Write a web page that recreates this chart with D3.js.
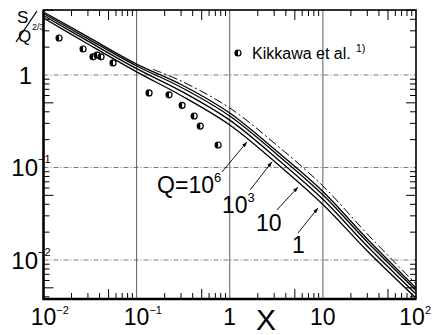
<!DOCTYPE html>
<meta charset="utf-8">
<style>
    html, body { margin: 0; background: #fff; }
    svg { display: block; font-family: "Liberation Sans", Arial, sans-serif; }
    .frame { fill: none; stroke: #000; }
    .grid-v { stroke: #333; stroke-width: 0.8px; }
    .grid-h { stroke: #555; stroke-width: 0.8px; stroke-dasharray: 5,2,1,2; }
    .curve { fill: none; stroke: #000; stroke-width: 1.3px; }
    .dashdot { fill: none; stroke: #000; stroke-width: 1px; stroke-dasharray: 9,3,2,3; }
    .tick { stroke: #000; stroke-width: 1px; }
    .lbl { fill: #000; }
</style>
<body>
<script src="https://cdn.jsdelivr.net/npm/d3@7"></script>
<script>
// sample abscissae for the model curves
var xs = [0.01, 0.03, 0.1, 0.3, 1, 3, 10, 30, 100];
// S/Q^(2/3) for each Q
var sQ1   = [4.80, 2.58, 1.31, 0.789, 0.388, 0.158, 0.0550, 0.01687, 0.00498];
var sQ10  = [4.62, 2.46, 1.25, 0.737, 0.360, 0.147, 0.0507, 0.01566, 0.00468];
var sQ1e3 = [4.39, 2.32, 1.17, 0.670, 0.325, 0.132, 0.0453, 0.01409, 0.00429];
var sQ1e6 = [4.13, 2.16, 1.08, 0.600, 0.288, 0.117, 0.0398, 0.01251, 0.00388];
// dash-dot curve
var dashX = [0.15, 0.3, 1, 3, 10, 30, 100];
var dashY = [1.15, 0.861, 0.440, 0.184, 0.0631, 0.0191, 0.0055];
// Kikkawa et al. points
var kikX = [0.0147, 0.0266, 0.034, 0.0376, 0.0415, 0.0558, 0.136, 0.223, 0.308, 0.415, 0.482, 0.75];
var kikY = [2.51, 1.91, 1.57, 1.64, 1.57, 1.35, 0.64, 0.61, 0.47, 0.36, 0.28, 0.175];
// tick labels
var xTickVals = [0.01, 0.1, 1, 10, 100];
var xTickBase = ["10", "10", "1", "10", "10"];
var xTickSup  = ["\u22122", "\u22121", "", "", "2"];
var yTickVals = [1, 0.1, 0.01];
var yTickBase = ["1", "10", "10"];
var yTickSup  = ["", "\u22121", "\u22122"];
// curve labels: text, exponent, label position, arrow start and tip (data coords)
var qText = ["Q=10", "10", "10", "1"];
var qSup  = ["6", "3", "", ""];
var qLabelX = [0.166, 0.826, 1.91, 4.67];
var qLabelY = [0.0530, 0.0322, 0.0206, 0.0119];
var qFromX = [0.826, 1.65, 3.21, 5.41];
var qFromY = [0.0894, 0.0571, 0.0347, 0.0196];
var qTipX  = [1.53, 2.84, 5.41, 8.87];
var qTipY  = [0.189, 0.115, 0.0615, 0.0365];

var width = 432, height = 335;

var x = d3.scaleLog().domain([0.01, 100]).range([43.5, 416]);
var y = d3.scaleLog().domain([0.003787, 5.04]).range([299, 10]);

var svg = d3.select("body").append("svg")
    .attr("width", width)
    .attr("height", height);

svg.append("defs").append("marker")
    .attr("id", "arr")
    .attr("viewBox", "0 0 10 10")
    .attr("refX", 10).attr("refY", 5)
    .attr("markerWidth", 6).attr("markerHeight", 6)
    .attr("orient", "auto")
    .append("path").attr("d", "M0,1.5L10,5L0,8.5z").attr("fill", "#000");

// grid
svg.selectAll(".grid-v").data([0.1, 1, 10]).enter().append("line")
    .attr("class", "grid-v")
    .attr("x1", d => x(d)).attr("x2", d => x(d))
    .attr("y1", y.range()[0]).attr("y2", y.range()[1]);
svg.selectAll(".grid-h").data(yTickVals).enter().append("line")
    .attr("class", "grid-h")
    .attr("x1", x.range()[0]).attr("x2", x.range()[1])
    .attr("y1", d => y(d)).attr("y2", d => y(d));

// minor ticks on all sides, pointing inward
var xMinor = [], yMinor = [];
[0.01, 0.1, 1, 10].forEach(function (p) {
    for (var k = 2; k < 10; k++) xMinor.push(k * p);
});
[0.001, 0.01, 0.1, 1].forEach(function (p) {
    for (var k = 2; k < 10; k++) {
        var v = k * p;
        if (v > y.domain()[0] && v < y.domain()[1]) yMinor.push(v);
    }
});
function tlen(v) {
    var m = Math.round(v / Math.pow(10, Math.floor(Math.log10(v) + 1e-9)));
    return m === 5 ? 10 : 6;
}
var ticks = svg.append("g");
xMinor.forEach(function (v) {
    ticks.append("line").attr("class", "tick")
        .attr("x1", x(v)).attr("x2", x(v)).attr("y1", y.range()[0]).attr("y2", y.range()[0] - tlen(v));
    ticks.append("line").attr("class", "tick")
        .attr("x1", x(v)).attr("x2", x(v)).attr("y1", y.range()[1]).attr("y2", y.range()[1] + tlen(v));
});
yMinor.forEach(function (v) {
    ticks.append("line").attr("class", "tick")
        .attr("y1", y(v)).attr("y2", y(v)).attr("x1", x.range()[0]).attr("x2", x.range()[0] + tlen(v));
    ticks.append("line").attr("class", "tick")
        .attr("y1", y(v)).attr("y2", y(v)).attr("x1", x.range()[1]).attr("x2", x.range()[1] - tlen(v));
});

// frame
svg.append("rect").attr("class", "frame")
    .attr("x", x.range()[0]).attr("y", y.range()[1])
    .attr("width", x.range()[1] - x.range()[0])
    .attr("height", y.range()[0] - y.range()[1])
    .attr("stroke-width", 1.6);
svg.append("path").attr("class", "frame")
    .attr("d", "M" + x.range()[0] + "," + y.range()[1] + "V" + y.range()[0] + "H" + x.range()[1])
    .attr("stroke-width", 2.4);

// curves
var line = d3.line()
    .x(d => x(d[0]))
    .y(d => y(d[1]))
    .curve(d3.curveCatmullRom.alpha(0.5));

[sQ1, sQ10, sQ1e3, sQ1e6].forEach(function (s) {
    svg.append("path").attr("class", "curve")
        .attr("d", line(xs.map((v, i) => [v, s[i]])));
});
svg.append("path").attr("class", "dashdot")
    .attr("d", line(dashX.map((v, i) => [v, dashY[i]])));

// data points (half filled circles)
function halfCircle(g, cx, cy) {
    var r = 3;
    g.append("circle").attr("cx", cx).attr("cy", cy).attr("r", r)
        .attr("fill", "#fff").attr("stroke", "#000").attr("stroke-width", 1.2);
    g.append("path")
        .attr("d", "M" + cx + "," + (cy - r) + "A" + r + "," + r + " 0 0 0 " + cx + "," + (cy + r) + "Z")
        .attr("fill", "#000");
}
var pts = svg.append("g");
kikX.forEach(function (v, i) { halfCircle(pts, x(v), y(kikY[i])); });

// legend
halfCircle(svg, 238, 53);
var leg = svg.append("text").attr("class", "lbl")
    .attr("x", 252).attr("y", 59)
    .attr("font-size", 16);
leg.append("tspan").text("Kikkawa et al.");
leg.append("tspan").attr("dx", 5).attr("dy", -7).attr("font-size", 11).text("1)");

// curve labels with arrows
qText.forEach(function (t, i) {
    var tx = svg.append("text").attr("class", "lbl")
        .attr("x", x(qLabelX[i])).attr("y", y(qLabelY[i]))
        .attr("font-size", 23);
    tx.append("tspan").text(t);
    if (qSup[i]) tx.append("tspan").attr("dy", -11).attr("font-size", 13).text(qSup[i]);
    svg.append("line")
        .attr("x1", x(qFromX[i])).attr("y1", y(qFromY[i]))
        .attr("x2", x(qTipX[i])).attr("y2", y(qTipY[i]))
        .attr("stroke", "#000").attr("stroke-width", 0.9)
        .attr("marker-end", "url(#arr)");
});

// x tick labels
xTickVals.forEach(function (v, i) {
    var t = svg.append("text").attr("class", "lbl")
        .attr("y", 325)
        .attr("font-size", 23);
    var b = t.append("tspan").text(xTickBase[i]);
    var s = null;
    if (xTickSup[i]) s = t.append("tspan").attr("dy", -11).attr("font-size", 11).text(xTickSup[i]);
    var w = b.node().getComputedTextLength();
    var sw = s ? s.node().getComputedTextLength() : 0;
    var left = Math.min(x(v) - w / 2, width - 1 - w - sw);
    t.attr("x", left);
});
svg.append("text").attr("class", "lbl")
    .attr("x", 266).attr("y", 330)
    .attr("text-anchor", "middle")
    .attr("font-size", 30)
    .text("X");

// y tick labels
yTickVals.forEach(function (v, i) {
    var t = svg.append("text").attr("class", "lbl")
        .attr("y", y(v) + 9)
        .attr("font-size", 24);
    var b = t.append("tspan").text(yTickBase[i]);
    if (yTickSup[i]) t.append("tspan").attr("dy", -13).attr("font-size", 11).text(yTickSup[i]);
    var w = b.node().getComputedTextLength();
    t.attr("x", (yTickSup[i] ? 38 : 32) - w);
});

// y title S/Q^(2/3)
var ttl = svg.append("g");
ttl.append("text").attr("class", "lbl").attr("x", 17).attr("y", 23).attr("font-size", 17).text("S");
ttl.append("line").attr("x1", 16).attr("y1", 42).attr("x2", 37).attr("y2", 11)
    .attr("stroke", "#000").attr("stroke-width", 1.3);
ttl.append("text").attr("class", "lbl").attr("x", 18).attr("y", 42).attr("font-size", 17).text("Q");
ttl.append("text").attr("class", "lbl").attr("x", 32).attr("y", 30).attr("font-size", 9).text("2/3");
</script>
</body>
